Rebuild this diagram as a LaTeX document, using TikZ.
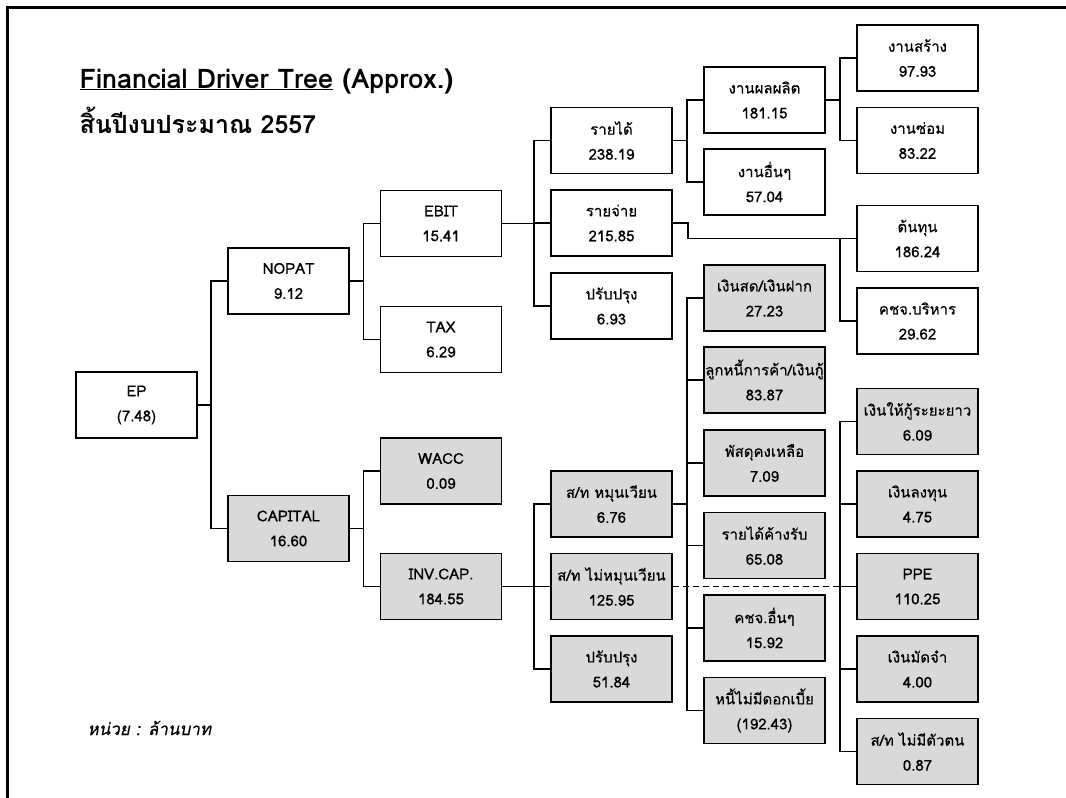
\documentclass[tikz,border=0pt]{standalone}
\usepackage{fontspec}
\setmainfont[Script=Thai]{Loma}
\newfontfamily\boxfont[Script=Thai,FakeBold=0.5]{Loma}
\newfontfamily\slantfont[Script=Thai,FakeSlant=0.2,FakeBold=0.5]{Loma}
\usetikzlibrary{calc}
\definecolor{boxgrey}{HTML}{D9D9D9}
\tikzset{
  box/.style={draw, line width=1.9pt, minimum width=121pt, minimum height=66pt,
    inner sep=0pt, align=center, font=\fontsize{15}{25}\selectfont\boxfont},
  greybox/.style={box, fill=boxgrey},
  conn/.style={line width=1.2pt},
}
\def\branch(#1)(#2){\draw[conn] (#1.east) -| ([xshift=-16pt]#2.west) -- (#2.west);}

\begin{document}
\begin{tikzpicture}[x=1pt, y=-1pt]
			%%%%% START %%%%%
			\useasboundingbox (0,0) rectangle (1066,798);
			\draw[line width=3pt] (7.5,800) -- (7.5,7.5) -- (1070,7.5);
			
			\node[anchor=base west, font=\fontsize{27}{30}\selectfont\bfseries] (title) at (76,88) {\underline{Financial Driver Tree} (Approx.)};
			\node[anchor=base west, font=\fontsize{25}{30}\selectfont\bfseries] (year) at (76,133) {สิ้นปีงบประมาณ 2557};
			\node[anchor=base west, font=\fontsize{17}{20}\selectfont\slantfont] (unit) at (84,735) {หน่วย : ล้านบาท};
			
			\node[box] (ep) at (136.5,405) {EP\\(7.48)};
			
			\node[box] (nopat) at (288.5,281) {NOPAT\\9.12};
			\node[greybox] (capital) at (288.5,528.5) {CAPITAL\\16.60};
			
			\node[box] (ebit) at (441,223.5) {EBIT\\15.41};
			\node[box] (tax) at (441,339.5) {TAX\\6.29};
			\node[greybox] (wacc) at (441,471) {WACC\\0.09};
			\node[greybox] (invcap) at (441,586.5) {INV.CAP.\\184.55};
			
			\node[box] (rev) at (611.5,140.5) {รายได้\\238.19};
			\node[box] (exp) at (611.5,223) {รายจ่าย\\215.85};
			\node[box] (adjop) at (611.5,306) {ปรับปรุง\\6.93};
			\node[greybox] (cur) at (611.5,504) {ส/ท หมุนเวียน\\6.76};
			\node[greybox] (ncur) at (611.5,586.5) {ส/ท ไม่หมุนเวียน\\125.95};
			\node[greybox] (adjcap) at (611.5,669) {ปรับปรุง\\51.84};
			
			\node[box] (prod) at (764.5,100) {งานผลผลิต\\181.15};
			\node[box] (otherwork) at (764.5,182) {งานอื่นๆ\\57.04};
			\node[greybox] (cash) at (764.5,298) {เงินสด/เงินฝาก\\27.23};
			\node[greybox] (recv) at (764.5,380) {ลูกหนี้การค้า/เงินกู้\\83.87};
			\node[greybox] (stock) at (764.5,463) {พัสดุคงเหลือ\\7.09};
			\node[greybox] (accr) at (764.5,545.5) {รายได้ค้างรับ\\65.08};
			\node[greybox] (othexp) at (764.5,628) {คชจ.อื่นๆ\\15.92};
			\node[greybox] (nonint) at (764.5,710.5) {หนี้ไม่มีดอกเบี้ย\\(192.43)};
			
			\node[box] (build) at (917.5,58) {งานสร้าง\\97.93};
			\node[box] (repair) at (917.5,140.5) {งานซ่อม\\83.22};
			\node[box] (cost) at (917.5,238.5) {ต้นทุน\\186.24};
			\node[box] (admin) at (917.5,321) {คชจ.บริหาร\\29.62};
			\node[greybox] (loan) at (917.5,421.5) {เงินให้กู้ระยะยาว\\6.09};
			\node[greybox] (invest) at (917.5,504) {เงินลงทุน\\4.75};
			\node[greybox] (ppe) at (917.5,586.5) {PPE\\110.25};
			\node[greybox] (deposit) at (917.5,669) {เงินมัดจำ\\4.00};
			\node[greybox] (intang) at (917.5,751.5) {ส/ท ไม่มีตัวตน\\0.87};
			
			\branch(ep)(nopat)
			\branch(ep)(capital)
			\branch(nopat)(ebit)
			\branch(nopat)(tax)
			\branch(capital)(wacc)
			\branch(capital)(invcap)
			\branch(ebit)(rev)
			\branch(ebit)(exp)
			\branch(ebit)(adjop)
			\branch(invcap)(cur)
			\branch(invcap)(ncur)
			\branch(invcap)(adjcap)
			\branch(rev)(prod)
			\branch(rev)(otherwork)
			\branch(prod)(build)
			\branch(prod)(repair)
			\branch(cur)(cash)
			\branch(cur)(recv)
			\branch(cur)(stock)
			\branch(cur)(accr)
			\branch(cur)(othexp)
			\branch(cur)(nonint)
			
			\draw[conn] (exp.east) -- ++(15,0) |- (cost.west);
			\draw[conn] ([xshift=-16pt]cost.west) |- (admin.west);
			
			\draw[conn, dash pattern=on 6pt off 4pt] (ncur.east) -- ([xshift=-16pt]ppe.west);
			\draw[conn] ([xshift=-16pt]ppe.west) -- (ppe.west);
			\draw[conn] ([xshift=-16pt]ppe.west) |- (loan.west);
			\draw[conn] ([xshift=-16pt]ppe.west) |- (invest.west);
			\draw[conn] ([xshift=-16pt]ppe.west) |- (deposit.west);
			\draw[conn] ([xshift=-16pt]ppe.west) |- (intang.west);
			
			%%%%% END %%%%%
\end{tikzpicture}
\end{document}
